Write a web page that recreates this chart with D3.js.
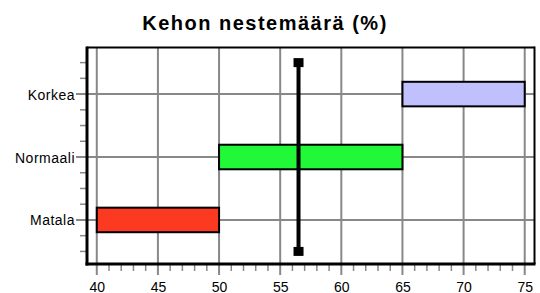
<!DOCTYPE html>
<html>
<head>
<meta charset="utf-8">
<script src="https://cdn.jsdelivr.net/npm/d3@7"></script>
<style>
  html, body { margin: 0; padding: 0; background: #fff; }
  svg { display: block; }
</style>
</head>
<body>
<svg id="chart" width="540" height="293"></svg>
<script>
// chart data
const categories = ['Matala', 'Normaali', 'Korkea'];
const rangeStart = [40, 50, 65];
const rangeEnd = [50, 65, 75];
const barColors = ['#fc3a22', '#20f838', '#c0c0ff'];
const measured = 56.5;
const measuredFrom = 0.5;
const measuredTo = 3.5;
const xTicks = [40, 45, 50, 55, 60, 65, 70, 75];
const xMinorTicks = d3.range(41, 75).filter(v => v % 5 !== 0);
const yMinorTicks = [0.5, 0.75, 1.25, 1.5, 1.75, 2.25, 2.5, 2.75, 3.25, 3.5];
const title = 'Kehon nestemäärä (%)';

const svg = d3.select('#chart');
const W = 540;
const pLeft = 87, pRight = 534.5, pTop = 47.5, pBottom = 264;

const x = d3.scaleLinear().domain([39.2, 75.8]).range([pLeft, pRight]);
const y = d3.scaleLinear().domain([0.3, 3.74]).range([pBottom, pTop]);
const pos = c => y(categories.indexOf(c) + 1);

svg.append('rect').attr('width', W).attr('height', 293).attr('fill', '#fff');

// title
svg.append('text')
  .attr('x', 265).attr('y', 30)
  .attr('text-anchor', 'middle')
  .style('font-family', 'Liberation Sans, Arial, sans-serif')
  .style('font-weight', 'bold')
  .style('font-size', '20px')
  .style('letter-spacing', '1.5px')
  .text(title);

// grid
const grid = svg.append('g').attr('stroke', '#888').attr('stroke-width', 2);
grid.selectAll('.vx').data(xTicks).join('line')
  .attr('x1', d => x(d)).attr('x2', d => x(d))
  .attr('y1', pTop).attr('y2', pBottom + 11);
grid.selectAll('.hy').data(categories).join('line')
  .attr('x1', pLeft - 11).attr('x2', pRight)
  .attr('y1', d => pos(d)).attr('y2', d => pos(d));

// minor ticks
const minor = svg.append('g').attr('stroke', '#888').attr('stroke-width', 1.5);
minor.selectAll('.mx').data(xMinorTicks).join('line')
  .attr('x1', d => x(d)).attr('x2', d => x(d))
  .attr('y1', pBottom).attr('y2', pBottom + 7);
minor.selectAll('.my').data(yMinorTicks).join('line')
  .attr('x1', pLeft - 7).attr('x2', pLeft)
  .attr('y1', d => y(d)).attr('y2', d => y(d));

// bars
const barH = y(0) - y(0.39);
svg.append('g').selectAll('rect').data(categories).join('rect')
  .attr('x', (d, i) => x(rangeStart[i]))
  .attr('width', (d, i) => x(rangeEnd[i]) - x(rangeStart[i]))
  .attr('y', d => pos(d) - barH / 2)
  .attr('height', barH)
  .attr('fill', (d, i) => barColors[i])
  .attr('stroke', '#000')
  .attr('stroke-width', 2);

// measured value line
svg.append('line')
  .attr('x1', x(measured)).attr('x2', x(measured))
  .attr('y1', y(measuredFrom)).attr('y2', y(measuredTo))
  .attr('stroke', '#000').attr('stroke-width', 4);
svg.selectAll('.mark').data([measuredFrom, measuredTo]).join('rect')
  .attr('x', x(measured) - 5).attr('y', d => y(d) - 4.5)
  .attr('width', 10).attr('height', 9).attr('fill', '#000');

// axes labels
const xAxis = d3.axisBottom(x).tickValues(xTicks).tickSize(0).tickPadding(0);
const gx = svg.append('g').attr('transform', `translate(0,${pBottom})`).call(xAxis);
gx.select('.domain').remove();
gx.selectAll('text').attr('y', 27.5).attr('dy', 0)
  .style('font-family', 'Liberation Sans, Arial, sans-serif')
  .style('font-size', '14px').attr('fill', '#000');

const yAxis = d3.axisLeft(y).tickValues([1, 2, 3]).tickFormat(d => categories[d - 1])
  .tickSize(0).tickPadding(0);
const gy = svg.append('g').attr('transform', `translate(${pLeft - 12},0)`).call(yAxis);
gy.select('.domain').remove();
gy.selectAll('text').attr('dy', '0.36em')
  .style('font-family', 'Liberation Sans, Arial, sans-serif')
  .style('font-size', '14px').style('letter-spacing', '0.5px').attr('fill', '#000');

// frame
svg.append('line').attr('x1', pLeft).attr('x2', pRight).attr('y1', pTop).attr('y2', pTop)
  .attr('stroke', '#000').attr('stroke-width', 2);
svg.append('line').attr('x1', pRight).attr('x2', pRight).attr('y1', pTop - 1).attr('y2', pBottom)
  .attr('stroke', '#000').attr('stroke-width', 2);
svg.append('line').attr('x1', pLeft).attr('x2', pLeft).attr('y1', pTop - 1).attr('y2', pBottom + 1.5)
  .attr('stroke', '#000').attr('stroke-width', 3);
svg.append('line').attr('x1', pLeft - 1.5).attr('x2', pRight + 1).attr('y1', pBottom).attr('y2', pBottom)
  .attr('stroke', '#000').attr('stroke-width', 3);
</script>
</body>
</html>
